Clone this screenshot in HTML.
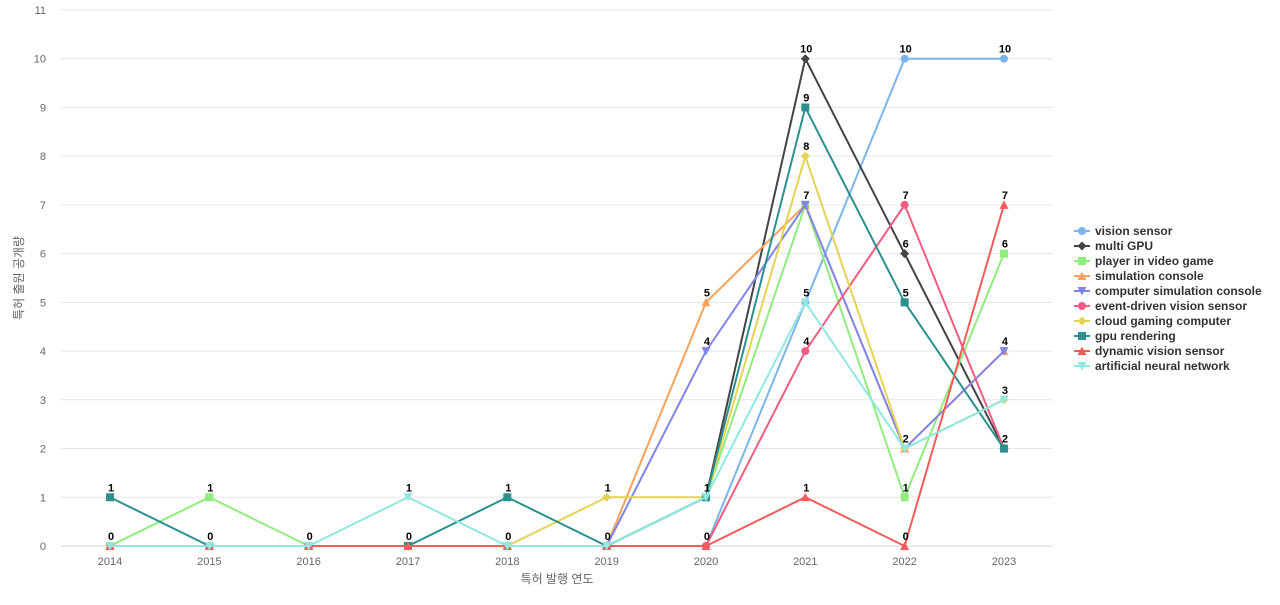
<!DOCTYPE html>
<html><head><meta charset="utf-8"><style>
body{margin:0;background:#fff;font-family:"Liberation Sans","Noto Sans CJK KR",sans-serif}
svg text{font-family:"Liberation Sans","Noto Sans CJK KR",sans-serif}
</style></head><body>
<svg id="c" width="1280" height="600"></svg>
<script>
const years=[2014,2015,2016,2017,2018,2019,2020,2021,2022,2023];
const yTicks=[0,1,2,3,4,5,6,7,8,9,10,11];
const names=["vision sensor","multi GPU","player in video game","simulation console","computer simulation console","event-driven vision sensor","cloud gaming computer","gpu rendering","dynamic vision sensor","artificial neural network"];
const colors=["#7cb5ec","#434348","#90ed7d","#f7a35c","#8085e9","#f15c80","#e4d354","#2b908f","#f45b5b","#91e8e1"];
const markers=["circle","diamond","square","triangle","triangle-down","circle","diamond","square","triangle","triangle-down"];
const s0=[0,0,0,0,0,0,0,5,10,10];
const s1=[0,0,0,0,0,0,1,10,6,2];
const s2=[0,1,0,0,0,0,1,7,1,6];
const s3=[0,0,0,0,0,0,5,7,2,4];
const s4=[0,0,0,0,0,0,4,7,2,4];
const s5=[0,0,0,0,0,0,0,4,7,2];
const s6=[0,0,0,0,0,1,1,8,2,3];
const s7=[1,0,0,0,1,0,1,9,5,2];
const s8=[0,0,0,0,0,0,0,1,0,7];
const s9=[0,0,0,1,0,0,1,5,2,3];
const series=[s0,s1,s2,s3,s4,s5,s6,s7,s8,s9];
const NS="http://www.w3.org/2000/svg";
const svg=document.getElementById('c');
const x=i=>110+i*99.33, y=v=>546-v*48.73;
function mk(t,a,p){const e=document.createElementNS(NS,t);for(const k in a)e.setAttribute(k,a[k]);(p||svg).appendChild(e);return e;}
yTicks.forEach(t=>{
 const g=mk('line',{x1:61,x2:1053,y1:y(t),y2:y(t),stroke:t===0?'#ccd6eb':'#e6e6e6'});
 
 
 const l=mk('text',{x:46,y:y(t)+4,'text-anchor':'end','font-size':11,fill:'#666'});l.textContent=t;
 
 
});
years.forEach((yr,i)=>{const l=mk('text',{x:x(i),y:565,'text-anchor':'middle','font-size':11,fill:'#666'});l.textContent=yr;
 
 });
let t=mk('text',{x:557,y:583,'text-anchor':'middle','font-size':12,fill:'#666'});t.textContent='특허 발행 연도';


t=mk('text',{x:0,y:0,'text-anchor':'middle','font-size':12,fill:'#666',transform:'translate(23,278) rotate(-90)'});t.textContent='특허 출원 공개량';


function marker(type,cx,cy,c,p){
 let e;
 if(type==='circle')e=mk('circle',{cx,cy,r:4,fill:c},p);
 else if(type==='square')e=mk('rect',{x:cx-4,y:cy-4,width:8,height:8,fill:c},p);
 else if(type==='diamond')e=mk('path',{d:`M${cx} ${cy-4.5}L${cx+4.5} ${cy}L${cx} ${cy+4.5}L${cx-4.5} ${cy}Z`,fill:c},p);
 else if(type==='triangle')e=mk('path',{d:`M${cx} ${cy-4.5}L${cx+4.5} ${cy+4}L${cx-4.5} ${cy+4}Z`,fill:c},p);
 else e=mk('path',{d:`M${cx} ${cy+4.5}L${cx+4.5} ${cy-4}L${cx-4.5} ${cy-4}Z`,fill:c},p);
 return e;
}
series.forEach((s,k)=>{
 const g=mk('g',{});
 
 
 const p=mk('path',{d:s.map((v,i)=>(i?'L':'M')+x(i)+' '+y(v)).join(''),fill:'none',stroke:colors[k],'stroke-width':2},g);
 
 
 s.forEach((v,i)=>{const m=marker(markers[k],x(i),y(v),colors[k],g);
  
  });
});
const seen={};
series.forEach(s=>s.forEach((v,i)=>{const key=i+'_'+v;if(seen[key])return;seen[key]=1;
 const l=mk('text',{x:x(i)+1,y:y(v)-6,'text-anchor':'middle','font-size':11,'font-weight':'bold',fill:'#000'});l.textContent=v;
 
 }));
names.forEach((n,k)=>{
 const ly=231+k*15;
 const g=mk('g',{});
 
 
 mk('line',{x1:1074,x2:1090,y1:ly,y2:ly,stroke:colors[k],'stroke-width':2},g);
 marker(markers[k],1082,ly,colors[k],g);
 const l=mk('text',{x:1095,y:ly+4,'font-size':12,'font-weight':'bold',fill:'#333'},g);l.textContent=n;
});
</script>
</body></html>
